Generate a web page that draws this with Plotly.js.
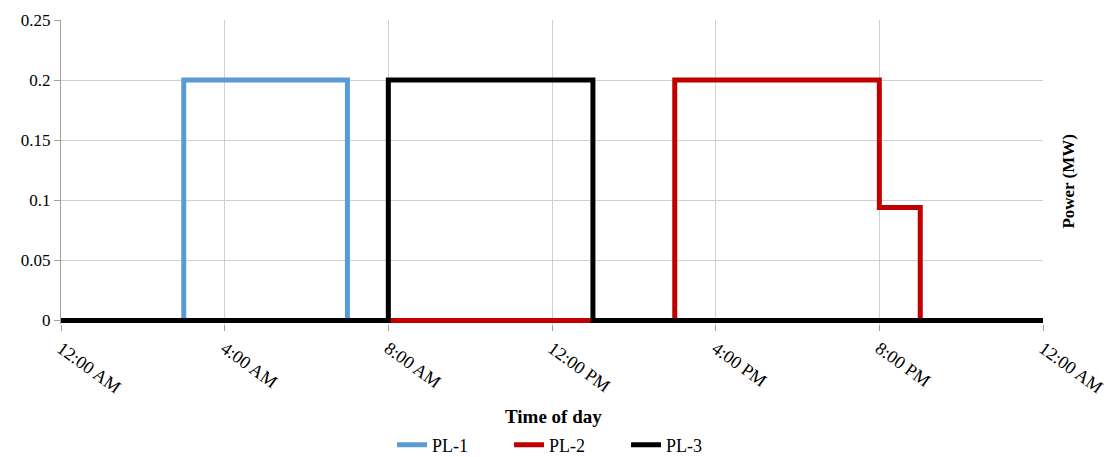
<!DOCTYPE html>
<html><head><meta charset="utf-8">
<script src="https://cdn.plot.ly/plotly-3.0.1.min.js"></script>
<style>body{margin:0;background:#fff}#chart{width:1115px;height:457px}</style>
</head><body><div id="chart"></div>
<script>
const hours = [0,1,2,3,4,5,6,7,8,9,10,11,12,13,14,15,16,17,18,19,20,21,22,23,24];
const pl1 = [0,0,0,0.2,0.2,0.2,0.2,0,0,0,0,0,0,0,0,0,0,0,0,0,0,0,0,0,0];
const pl2 = [0,0,0,0,0,0,0,0,0,0,0,0,0,0,0,0.2,0.2,0.2,0.2,0.2,0.094,0,0,0,0];
const pl3 = [0,0,0,0,0,0,0,0,0.2,0.2,0.2,0.2,0.2,0,0,0,0,0,0,0,0,0,0,0,0];
const tickHours = [0,4,8,12,16,20,24];
const tickLabels = ["12:00 AM","4:00 AM","8:00 AM","12:00 PM","4:00 PM","8:00 PM","12:00 AM"];
const seriesNames = ["PL-1","PL-2","PL-3"];
const colors = ["#5B9BD5","#C00000","#000000"];
const font = "'Liberation Serif', 'Times New Roman', serif";

const data = [pl1, pl2, pl3].map((v, i) => ({
  x: hours, y: v, name: seriesNames[i], type: 'scatter', mode: 'lines',
  line: {shape: 'hv', color: colors[i], width: 5}
}));

const layout = {
  width: 1115, height: 457,
  margin: {l: 61, r: 72, t: 20, b: 133.4, autoexpand: false},
  paper_bgcolor: '#fff', plot_bgcolor: '#fff',
  font: {family: font, size: 17, color: '#000'},
  showlegend: true,
  legend: {orientation: 'h', x: 0.509, xanchor: 'center', xref: 'container',
           y: 0.026, yanchor: 'middle', yref: 'container',
           entrywidth: 72, entrywidthmode: 'pixels',
           font: {family: font, size: 18}, traceorder: 'normal'},
  xaxis: {
    range: [0, 24], tickmode: 'array', tickvals: tickHours, ticktext: tickLabels,
    tickangle: 36, showgrid: true, gridcolor: '#d0d0d0', gridwidth: 1,
    ticks: 'outside', ticklen: 6, tickcolor: '#a0a0a0', automargin: false,
    showline: false, zeroline: false, tickfont: {family: font, size: 18}
  },
  yaxis: {
    range: [-0.003, 0.25], tickmode: 'array', tickvals: [0,0.05,0.1,0.15,0.2,0.25],
    ticktext: ['0','0.05','0.1','0.15','0.2','0.25'], automargin: false,
    showgrid: true, gridcolor: '#d0d0d0', gridwidth: 1,
    ticks: 'outside', ticklen: 6, tickcolor: '#a0a0a0',
    showline: true, linecolor: '#a0a0a0', linewidth: 1,
    zeroline: false, tickfont: {family: font, size: 17}
  },
  annotations: [{
    text: '<b>Power (MW)</b>', xref: 'paper', yref: 'paper', x: 1, y: 0.47,
    xanchor: 'left', yanchor: 'middle', xshift: 14, textangle: -90, showarrow: false,
    font: {family: font, size: 17, color: '#000'}
  }, {
    text: '<b>Time of day</b>', xref: 'paper', yref: 'paper', x: 0.502, y: -0.304,
    xanchor: 'center', yanchor: 'middle', showarrow: false,
    font: {family: font, size: 19, color: '#000'}
  }]
};
Plotly.newPlot('chart', data, layout, {displayModeBar: false, staticPlot: true});
</script></body></html>
